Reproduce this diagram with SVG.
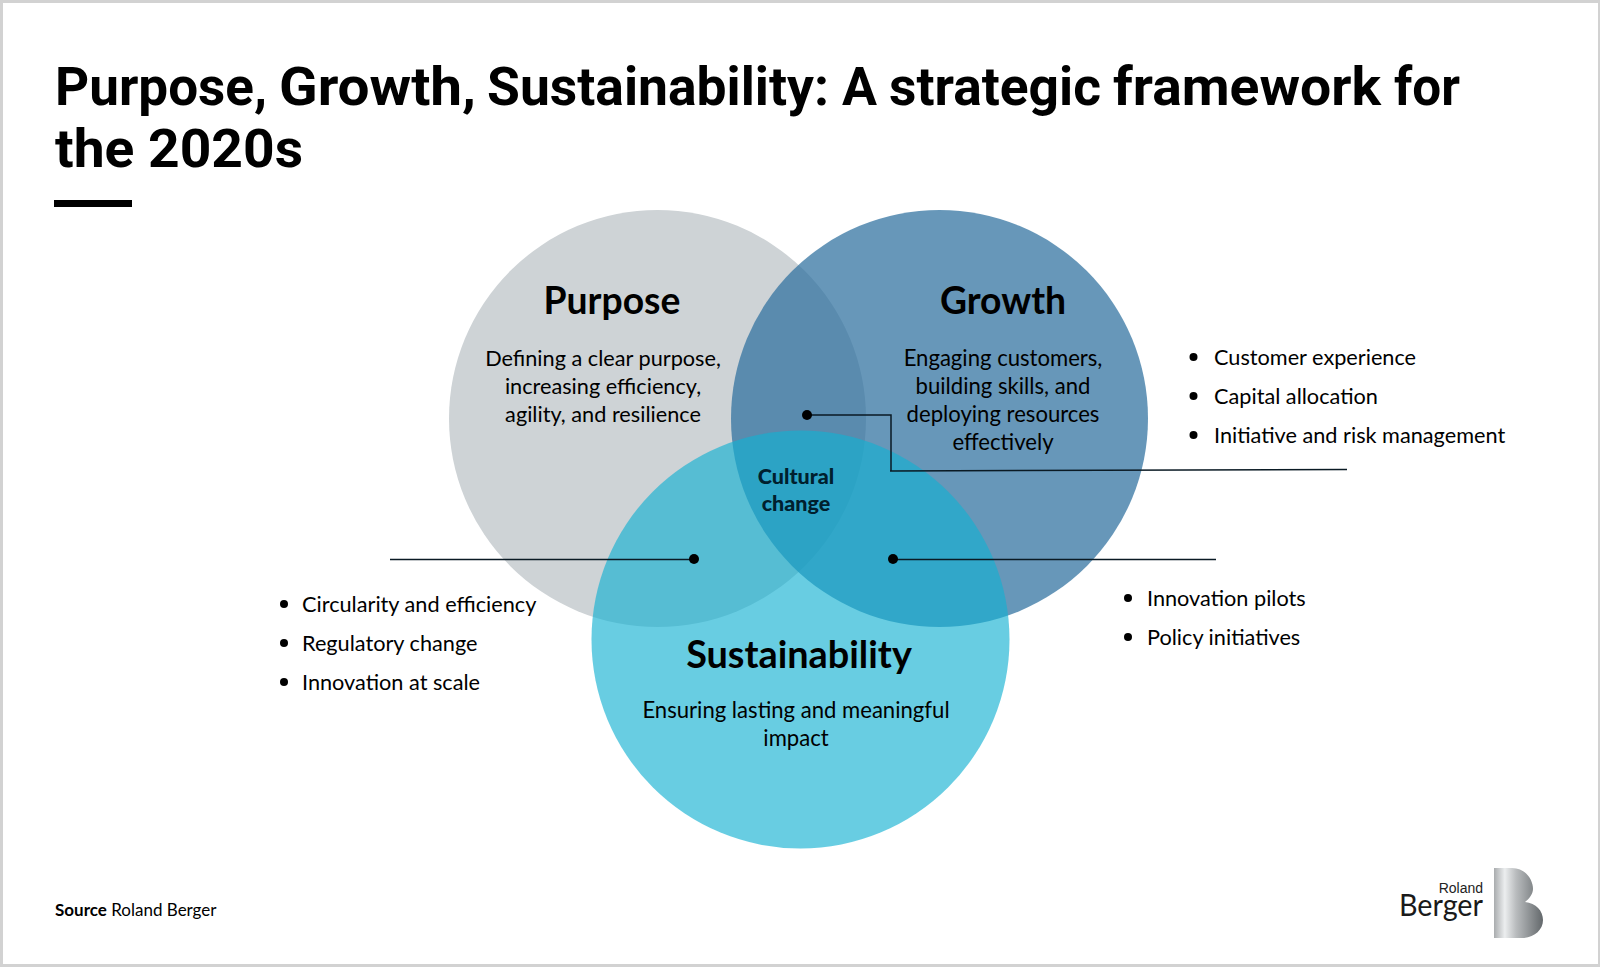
<svg xmlns="http://www.w3.org/2000/svg" width="1600" height="967" viewBox="0 0 1600 967">
<style>
.t{font-family:"Roboto","Liberation Sans",sans-serif;font-weight:700;font-size:54px;fill:#000}
.h{font-family:"Lato","Noto Sans",sans-serif;font-weight:700;font-size:37.300px;fill:#000;text-anchor:middle}
.b{font-family:"Lato","Noto Sans",sans-serif;font-size:21.700px;fill:#000}
.w{font-size:22.100px}
.m{text-anchor:middle}
.c{font-family:"Lato","Noto Sans",sans-serif;font-weight:900;font-size:21.500px;fill:#00202e;text-anchor:middle}
.l{stroke:#0a1a24;stroke-width:1.5;fill:none}
</style>
<defs>
<linearGradient id="bg" x1="0" y1="0" x2="1" y2="0">
<stop offset="0" stop-color="#a9acae"/><stop offset="0.22" stop-color="#eceeef"/><stop offset="0.45" stop-color="#b9bcbe"/><stop offset="1" stop-color="#63686b"/>
</linearGradient>
</defs>
<rect width="1600" height="967" fill="#d2d2d2"/>
<rect x="3" y="3" width="1595" height="961" fill="#fff"/>
<g id="title">
<text class="t" y="105"><tspan x="55" textLength="212" lengthAdjust="spacingAndGlyphs">Purpose,</tspan><tspan x="279" textLength="197" lengthAdjust="spacingAndGlyphs">Growth,</tspan><tspan x="487" textLength="342" lengthAdjust="spacingAndGlyphs">Sustainability:</tspan><tspan x="842" textLength="35" lengthAdjust="spacingAndGlyphs">A</tspan><tspan x="889" textLength="212" lengthAdjust="spacingAndGlyphs">strategic</tspan><tspan x="1113" textLength="268" lengthAdjust="spacingAndGlyphs">framework</tspan><tspan x="1394" textLength="66" lengthAdjust="spacingAndGlyphs">for</tspan></text>
<text class="t" x="55" y="167" textLength="248" lengthAdjust="spacingAndGlyphs">the 2020s</text>
<rect x="54" y="200" width="78" height="7" fill="#000"/>
</g>
<g id="node-purpose">
<circle cx="657.500" cy="418.500" r="208.500" fill="#ced3d6"/>
</g>
<g id="node-growth">
<circle cx="939.500" cy="418.500" r="208.500" fill="#2f709f" fill-opacity="0.73"/>
</g>
<g id="node-sustainability">
<circle cx="800.500" cy="639.500" r="209" fill="#12b1d2" fill-opacity="0.64"/>
</g>
<g id="labels">
<text class="h" x="612" y="314">Purpose</text>
<text class="b m" x="603" y="365.500">Defining a clear purpose,</text>
<text class="b m" x="603" y="393.500">increasing efficiency,</text>
<text class="b m" x="603" y="421.500">agility, and resilience</text>
<text class="h" x="1003" y="314">Growth</text>
<text class="b w m" x="1003" y="365.500">Engaging customers,</text>
<text class="b w m" x="1003" y="393.500">building skills, and</text>
<text class="b w m" x="1003" y="421.500">deploying resources</text>
<text class="b w m" x="1003" y="450">effectively</text>
<text class="h" x="799" y="668" style="font-size:37.800px">Sustainability</text>
<text class="b w m" x="796" y="718">Ensuring lasting and meaningful</text>
<text class="b w m" x="796" y="746">impact</text>
<text class="c" x="796" y="484">Cultural</text>
<text class="c" x="796" y="511">change</text>
</g>
<g id="connectors">
<path class="l" d="M807 415H891V471"/>
<path class="l" d="M890 471L1347 469.500"/>
<circle cx="807" cy="415" r="5" fill="#000"/>
<path class="l" d="M390 559.500H694"/>
<circle cx="694" cy="559" r="5" fill="#000"/>
<path class="l" d="M893 559.500H1216"/>
<circle cx="893" cy="559" r="5" fill="#000"/>
</g>
<g id="list-growth">
<circle cx="1193.500" cy="357" r="4" fill="#000"/><text class="b" x="1214" y="365">Customer experience</text>
<circle cx="1193.500" cy="396" r="4" fill="#000"/><text class="b" x="1214" y="404">Capital allocation</text>
<circle cx="1193.500" cy="435" r="4" fill="#000"/><text class="b" x="1214" y="442.500">Initiative and risk management</text>
</g>
<g id="list-purpose">
<circle cx="284" cy="604" r="4" fill="#000"/><text class="b" x="302" y="612">Circularity and efficiency</text>
<circle cx="284" cy="643" r="4" fill="#000"/><text class="b" x="302" y="650.500">Regulatory change</text>
<circle cx="284" cy="682" r="4" fill="#000"/><text class="b" x="302" y="689.500">Innovation at scale</text>
</g>
<g id="list-sustainability">
<circle cx="1128" cy="598" r="4" fill="#000"/><text class="b" x="1147" y="606">Innovation pilots</text>
<circle cx="1128" cy="637" r="4" fill="#000"/><text class="b" x="1147" y="645">Policy initiatives</text>
</g>
<g id="source">
<text font-family="Lato,'Noto Sans',sans-serif" font-size="17" x="55" y="916" fill="#000"><tspan font-weight="700">Source</tspan> Roland Berger</text>
</g>
<g id="logo">
<text font-family="'Liberation Sans',sans-serif" font-size="14" x="1483" y="893" text-anchor="end" fill="#222">Roland</text>
<text font-family="Lato,sans-serif" font-size="30" x="1399" y="916" fill="#1a1a1a" textLength="84" lengthAdjust="spacingAndGlyphs">Berger</text>
<path d="M1494 868H1512C1526 868 1533 880 1533 889C1533 894 1529 899 1525 902C1536 903 1543 911 1543 920C1543 930 1534 938 1522 938H1494Z" fill="url(#bg)"/>
</g>
</svg>
